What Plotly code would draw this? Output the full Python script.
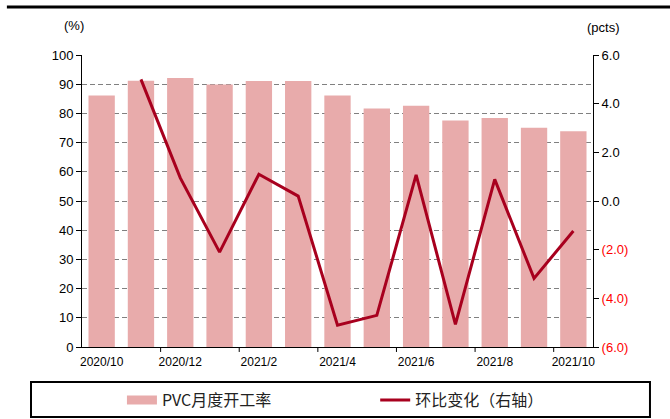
import plotly.graph_objects as go

categories = ["2020/10", "2020/11", "2020/12", "2021/1", "2021/2", "2021/3", "2021/4",
              "2021/5", "2021/6", "2021/7", "2021/8", "2021/9", "2021/10"]
utilization = [86.1, 91.2, 92.1, 89.9, 91.1, 91.1, 86.1, 81.7, 82.6, 77.6, 78.4, 75.1, 73.9]
mom_change = [None, 5.0, 0.95, -2.1, 1.1, 0.2, -5.1, -4.7, 1.07, -5.07, 0.89, -3.18, -1.23]

left_ticks = [0, 10, 20, 30, 40, 50, 60, 70, 80, 90, 100]
right_tickvals = [6, 4, 2, 0, -2, -4, -6]
right_ticktext = ["6.0", "4.0", "2.0", "0.0",
                  '<span style="color:#FF0000">(2.0)</span>',
                  '<span style="color:#FF0000">(4.0)</span>',
                  '<span style="color:#FF0000">(6.0)</span>']

bar_color = "#E8ABAB"
line_color = "#A8001E"
x_idx = list(range(len(categories)))

fig = go.Figure()
fig.add_trace(go.Bar(x=x_idx, y=utilization, name="PVC月度开工率",
                     marker=dict(color=bar_color, line=dict(width=0)),
                     width=0.67, yaxis="y", showlegend=False))
# legend proxy for the bar series (wide flat swatch, as in the reference)
fig.add_trace(go.Scatter(x=[None], y=[None], name="PVC月度开工率", mode="lines",
                         line=dict(color=bar_color, width=9), yaxis="y", legend="legend"))
fig.add_trace(go.Scatter(x=x_idx, y=mom_change, name="环比变化（右轴）",
                         mode="lines", line=dict(color=line_color, width=3),
                         yaxis="y2", legend="legend2"))

font_main = "Liberation Sans, Arial, sans-serif"
legend_font = dict(family="Noto Sans CJK SC, sans-serif", size=16, color="#222")

fig.update_layout(
    width=670, height=419,
    margin=dict(l=82, r=77, t=55, b=72, autoexpand=False),
    paper_bgcolor="white", plot_bgcolor="white",
    font=dict(family=font_main, size=12, color="#000000"),
    showlegend=True,
    legend=dict(orientation="h", xref="container", yref="container",
                x=0.182, y=0.045, xanchor="left", yanchor="middle",
                font=legend_font, bgcolor="rgba(0,0,0,0)"),
    legend2=dict(orientation="h", xref="container", yref="container",
                 x=0.56, y=0.045, xanchor="left", yanchor="middle",
                 font=legend_font, bgcolor="rgba(0,0,0,0)"),
    xaxis=dict(
        range=[-0.5, 12.5],
        tickmode="array",
        tickvals=[0, 2, 4, 6, 8, 10, 12],
        ticktext=[categories[i] for i in [0, 2, 4, 6, 8, 10, 12]],
        ticks="", showline=True, linecolor="#000", linewidth=1,
        showgrid=False, zeroline=False,
        tickfont=dict(size=12), ticklabelstandoff=4,
    ),
    yaxis=dict(
        range=[0, 100], tickvals=left_ticks,
        showline=True, linecolor="#000", linewidth=1,
        ticks="outside", ticklen=5, tickcolor="#000",
        showgrid=True, gridcolor="#808080", griddash="5px,3px", gridwidth=1,
        zeroline=False, tickfont=dict(size=13),
    ),
    yaxis2=dict(
        range=[-6, 6], overlaying="y", side="right",
        tickmode="array", tickvals=right_tickvals, ticktext=right_ticktext,
        showline=True, linecolor="#000", linewidth=1,
        ticks="outside", ticklen=5, tickcolor="#000",
        showgrid=False, zeroline=False, tickfont=dict(size=13),
    ),
    bargap=0.33,
)

# tick marks at category boundaries (every other boundary)
for b in [1.5, 3.5, 5.5, 7.5, 9.5, 11.5]:
    fig.add_shape(type="line", xref="x", yref="paper", x0=b, x1=b, y0=0, y1=-0.017,
                  line=dict(color="#000", width=1))

# top rule
fig.add_shape(type="line", xref="paper", yref="paper", x0=-0.147, x1=1.19, y0=1.164, y1=1.164,
              line=dict(color="#000", width=3))
# legend box
fig.add_shape(type="rect", xref="paper", yref="paper", x0=-0.0998, x1=1.1115, y0=-0.2397, y1=-0.1199,
              line=dict(color="#000", width=2), fillcolor="rgba(0,0,0,0)")

fig.add_annotation(text="(%)", xref="paper", yref="paper", x=0.008, y=1.1, xanchor="right",
                   yanchor="middle", showarrow=False, font=dict(size=13))
fig.add_annotation(text="(pcts)", xref="paper", yref="paper", x=0.984, y=1.093, xanchor="left",
                   yanchor="middle", showarrow=False, font=dict(size=13))

fig.write_html("out.html", config={"displayModeBar": False},
               post_script="document.body.style.margin='0';")
